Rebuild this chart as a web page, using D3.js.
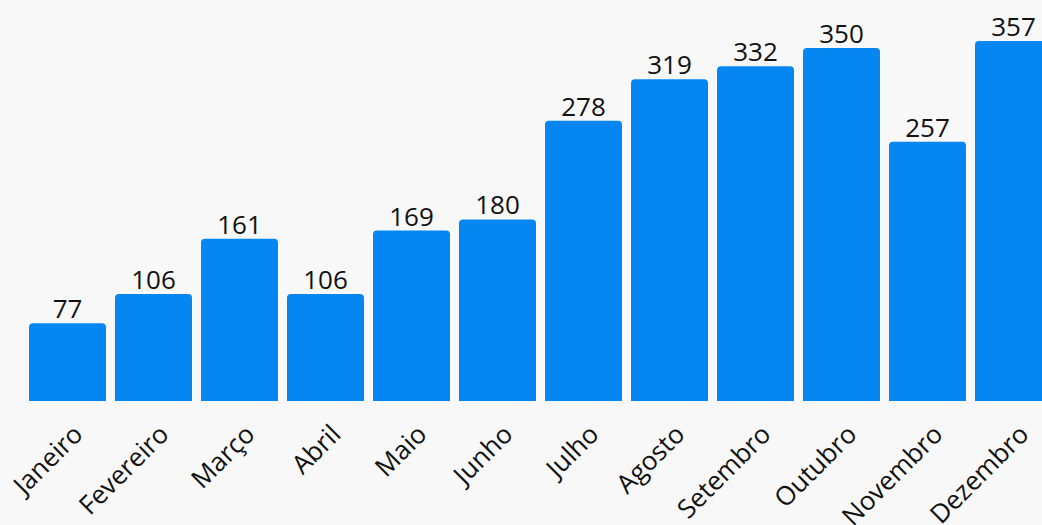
<!DOCTYPE html>
<html>
<head>
<meta charset="utf-8">
<script src="https://cdn.jsdelivr.net/npm/d3@7"></script>
<style>
  html, body { margin: 0; padding: 0; background: #f8f8f8; overflow: hidden; }
  text { font-family: "Open Sans", "Noto Sans", sans-serif; fill: #111; }
</style>
</head>
<body>
<div id="chart"></div>
<script>
// data
let months = ["Janeiro", "Fevereiro", "Março", "Abril", "Maio", "Junho",
    "Julho", "Agosto", "Setembro", "Outubro", "Novembro", "Dezembro"];
let values = [77, 106, 161, 106, 169, 180, 278, 319, 332, 350, 257, 357];

let svgWidth = 1042;
let svgHeight = 525;

let svg = d3.select("#chart")
    .append("svg")
    .attr("width", svgWidth)
    .attr("height", svgHeight);

// band: step 86, bar 77
let x = d3.scaleBand()
    .domain(months)
    .range([24.5, 24.5 + 12 * 86])
    .paddingInner(9 / 86)
    .paddingOuter(4.5 / 86);

let baseline = 401;
let y = d3.scaleLinear()
    .domain([0, 357])
    .range([baseline, 41]);

let data = months.map((m, i) => ({ month: m, value: values[i] }));

// bars with rounded top corners
function barPath(d) {
    let x0 = x(d.month), w = x.bandwidth();
    let y0 = y(d.value), r = 4;
    return `M${x0},${baseline}V${y0 + r}Q${x0},${y0} ${x0 + r},${y0}` +
        `H${x0 + w - r}Q${x0 + w},${y0} ${x0 + w},${y0 + r}V${baseline}Z`;
}

svg.append("g").selectAll("path")
    .data(data)
    .enter()
    .append("path")
    .attr("d", barPath)
    .attr("fill", "#0586f1");

// value labels
svg.append("g").selectAll("text")
    .data(data)
    .enter()
    .append("text")
    .attr("x", d => x(d.month) + x.bandwidth() / 2)
    .attr("y", d => y(d.value) - 5)
    .attr("text-anchor", "middle")
    .style("font-size", "26px")
    .text(d => d.value);

// month labels
svg.append("g").selectAll("text")
    .data(data)
    .enter()
    .append("text")
    .attr("transform", d => `translate(${x(d.month) + x.bandwidth() / 2 + 4},${baseline + 22}) rotate(-45)`)
    .attr("text-anchor", "end")
    .attr("dy", "0.7em")
    .style("font-size", "26px")
    .text(d => d.month);
</script>
</body>
</html>
